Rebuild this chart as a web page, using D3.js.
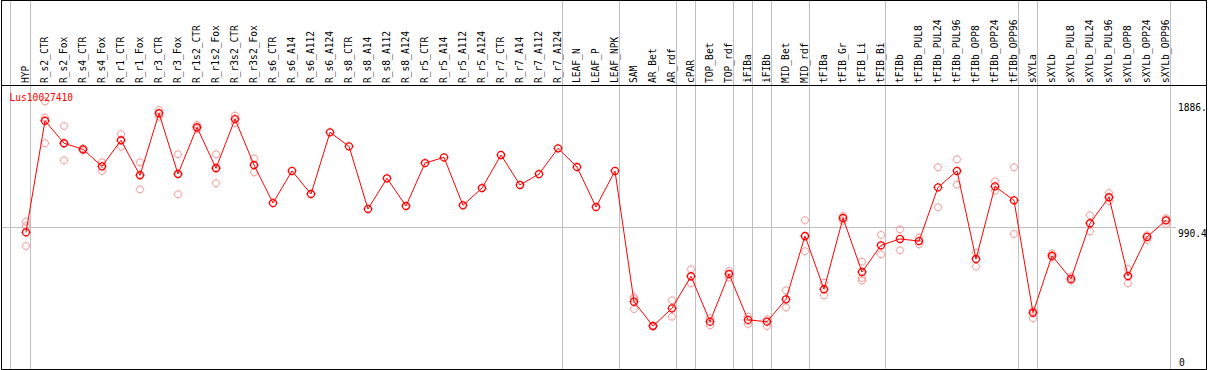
<!DOCTYPE html>
<html>
<head>
<meta charset="utf-8">
<script src="https://cdn.jsdelivr.net/npm/d3@7"></script>
<style>
  html, body { margin: 0; padding: 0; background: #fff; }
  #chart { width: 1209px; height: 370px; }
  text { font-family: 'DejaVu Sans Mono', monospace; font-size: 9.6px; }
</style>
</head>
<body>
<div id="chart"></div>
<script>
const geneId = 'Lus10027410'

const categories = ['HYP', 'R_s2_CTR', 'R_s2_Fox', 'R_s4_CTR', 'R_s4_Fox', 'R_r1_CTR', 'R_r1_Fox',
  'R_r3_CTR', 'R_r3_Fox', 'R_r1s2_CTR', 'R_r1s2_Fox', 'R_r3s2_CTR', 'R_r3s2_Fox', 'R_s6_CTR',
  'R_s6_A14', 'R_s6_A112', 'R_s6_A124', 'R_s8_CTR', 'R_s8_A14', 'R_s8_A112', 'R_s8_A124',
  'R_r5_CTR', 'R_r5_A14', 'R_r5_A112', 'R_r5_A124', 'R_r7_CTR', 'R_r7_A14', 'R_r7_A112', 'R_r7_A124',
  'LEAF_N', 'LEAF_P', 'LEAF_NPK', 'SAM', 'AR_Bet', 'AR_rdf', 'cPAR', 'TOP_Bet', 'TOP_rdf',
  'iFIBa', 'iFIBb', 'MID_Bet', 'MID_rdf', 'tFIBa', 'tFIB_Gr', 'tFIB_Li', 'tFIB_Bi', 'tFIBb',
  'tFIBb_PUL8', 'tFIBb_PUL24', 'tFIBb_PUL96', 'tFIBb_OPP8', 'tFIBb_OPP24', 'tFIBb_OPP96',
  'sXYLa', 'sXYLb', 'sXYLb_PUL8', 'sXYLb_PUL24', 'sXYLb_PUL96', 'sXYLb_OPP8', 'sXYLb_OPP24', 'sXYLb_OPP96']

// mean expression per sample
const meanValues = [960, 1749, 1590, 1547, 1427, 1611, 1363, 1802, 1372, 1703, 1413, 1761, 1436, 1167,
  1394, 1231, 1667, 1568, 1125, 1342, 1146, 1450, 1490, 1151, 1273, 1507, 1295, 1372, 1554,
  1422, 1139, 1394, 469, 297, 422, 649, 328, 665, 340, 328, 486, 934, 557, 1061, 679, 868, 913,
  898, 1278, 1394, 771, 1285, 1186, 391, 794, 630, 1024, 1208, 651, 927, 1045]

// replicate values (empty = single value)
const replicates = [
  [1035, 1004, 863], [1886, 1590, 1771], [1712, 1469, 1590], [1555, 1540], [1455, 1394],
  [1655, 1565], [1455, 1264, 1370], [1825, 1778], [1512, 1229, 1375], [1720, 1690],
  [1512, 1307, 1420], [1785, 1731], [1483, 1384],
  [], [], [], [], [], [], [], [], [], [], [], [], [], [], [], [], [], [], [],
  [488, 417, 502], [300, 294], [479, 363], [698, 599], [352, 302], [686, 639], [363, 311],
  [344, 297], [550, 429], [1045, 826, 931], [603, 514], [1075, 1042], [752, 637, 618],
  [941, 804], [981, 833], [922, 875], [1420, 1137], [1476, 1297], [816, 717], [1321, 1254],
  [1420, 948], [405, 352], [811, 783], [646, 618], [1080, 967], [1238, 1181], [700, 599],
  [939, 905], [1059, 1019]]

// last sample of each group (separator drawn after it)
const groupEnds = ['HYP', 'R_r7_A124', 'LEAF_NPK', 'AR_rdf', 'cPAR', 'TOP_rdf', 'iFIBa', 'iFIBb',
  'MID_rdf', 'tFIB_Bi', 'tFIBb_OPP96', 'sXYLa', 'sXYLb_OPP96']

const yTicks = [0, 990.4, 1886]
const yTickLabels = ['0', '990.4', '1886.']

class ExprChart {
  constructor (options) {
    this.opts = Object.assign({ id: 'chart' }, options)
    this.init()
    return this
  }
  init () {
    this.width = 1209
    this.height = 370
    this.svg = d3.select(`#${this.opts.id}`)
      .append('svg')
      .attr('width', this.width)
      .attr('height', this.height)
    this.x = d3.scalePoint().domain(categories).range([26, 1166])
    this.y = d3.scaleLinear().domain([0, 1886]).range([368, 101.4])
  }
  draw () {
    const x = this.x
    const y = this.y
    const svg = this.svg
    const grey = '#c0c0c0'

    // 分组竖线
    const sepX = [x(categories[0]) - 15.5].concat(groupEnds.map(d => x(d) + 4.5))
    svg.append('g').selectAll('line')
      .data(sepX)
      .enter()
      .append('line')
      .attr('x1', d => d).attr('x2', d => d)
      .attr('y1', 0).attr('y2', 369)
      .attr('stroke', grey)

    // 中间参考线
    const midY = Math.round(y(yTicks[1])) - 0.5
    svg.append('line')
      .attr('x1', 1).attr('x2', 1176)
      .attr('y1', midY).attr('y2', midY)
      .attr('stroke', grey)

    // 样本名称 (竖排)
    svg.append('g').selectAll('text')
      .data(categories)
      .enter()
      .append('text')
      .attr('transform', d => `translate(${Math.round(x(d)) + 3},83) rotate(-90)`)
      .attr('fill', '#000')
      .text(d => d)

    // 外框 + 表头分隔线
    svg.append('rect')
      .attr('x', 1.5).attr('y', 0.5)
      .attr('width', 1205).attr('height', 369)
      .attr('fill', 'none')
      .attr('stroke', '#000')
    svg.append('line')
      .attr('x1', 1).attr('x2', 1207)
      .attr('y1', 85.5).attr('y2', 85.5)
      .attr('stroke', '#000')

    // y轴刻度文字
    svg.append('g').selectAll('text')
      .data(yTicks)
      .enter()
      .append('text')
      .attr('x', (d, i) => i === 0 ? 1179 : 1178)
      .attr('y', d => Math.min(y(d) + 9.5, 365.5))
      .attr('fill', '#000')
      .text((d, i) => yTickLabels[i])

    // 圆圈加四个小刺
    function marker (cx, cy, r) {
      const t = 1
      return `M${cx + r},${cy}A${r},${r} 0 1 1 ${cx - r},${cy}A${r},${r} 0 1 1 ${cx + r},${cy}` +
        `M${cx},${cy - r}v${-t}M${cx},${cy + r}v${t}M${cx - r},${cy}h${-t}M${cx + r},${cy}h${t}`
    }

    // 重复样本
    const reps = []
    replicates.forEach((vals, i) => {
      vals.forEach(v => reps.push({ c: categories[i], v: v }))
    })
    svg.append('g').selectAll('path')
      .data(reps)
      .enter()
      .append('path')
      .attr('d', d => marker(x(d.c), y(d.v), 3.5))
      .attr('fill', 'none')
      .attr('stroke', '#f0a0a0')
      .attr('stroke-width', 1)

    // 均值折线
    const pts = categories.map((c, i) => ({ c: c, v: meanValues[i] }))
    svg.append('path')
      .datum(pts)
      .attr('d', d3.line().x(d => x(d.c)).y(d => y(d.v)))
      .attr('fill', 'none')
      .attr('stroke', '#ff0000')
      .attr('stroke-width', 1)

    svg.append('g').selectAll('path')
      .data(pts)
      .enter()
      .append('path')
      .attr('d', d => marker(x(d.c), y(d.v), 3.5))
      .attr('fill', 'none')
      .attr('stroke', '#ff0000')
      .attr('stroke-width', 1.3)

    // 基因名
    svg.append('text')
      .attr('x', 9.5).attr('y', 101)
      .attr('fill', '#ff0000')
      .text(geneId)
    return this
  }
}

new ExprChart({ id: 'chart' }).draw()
</script>
</body>
</html>
